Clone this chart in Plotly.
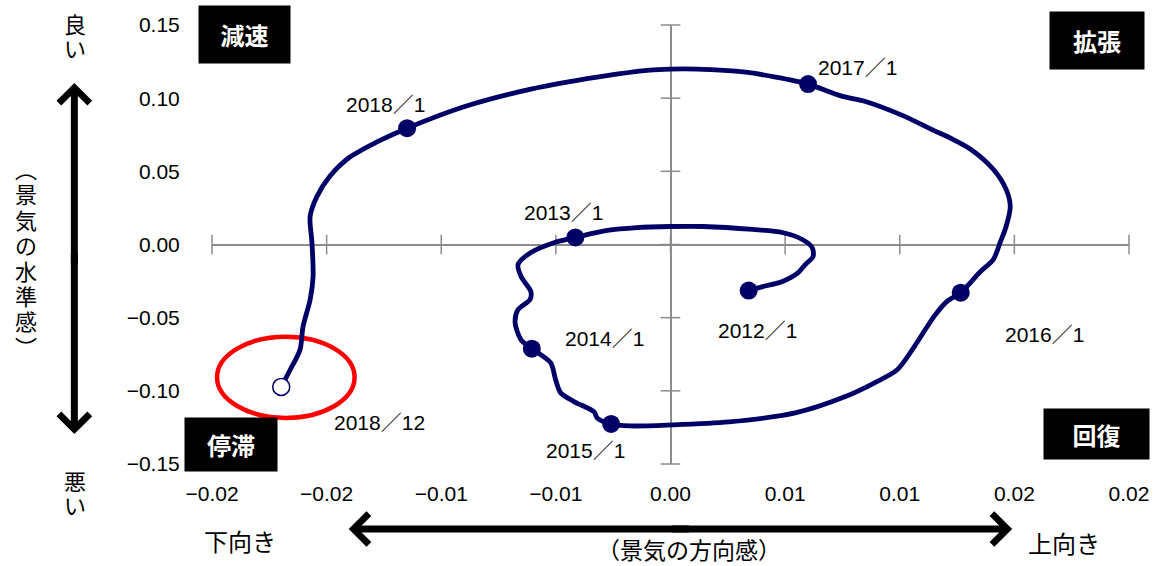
import plotly.graph_objects as go

# ---------------- data ----------------
x_tickvals = [-0.02, -0.015, -0.01, -0.005, 0.0, 0.005, 0.01, 0.015, 0.02]
x_ticktext = ["−0.02", "−0.02", "−0.01", "−0.01", "0.00", "0.01", "0.01", "0.02", "0.02"]
y_tickvals = [0.15, 0.10, 0.05, 0.0, -0.05, -0.10, -0.15]
y_ticktext = ["0.15", "0.10", "0.05", "0.00", "−0.05", "−0.10", "−0.15"]

# traced path of (direction, level) from 2012/1 to 2018/12
path_x = [0.00341, 0.00402, 0.00488, 0.00557, 0.00588, 0.00622, 0.00618, 0.00575, 0.00488,
          0.00359, 0.00143, 0.00000, -0.00147, -0.00276,
          -0.00415, -0.00505, -0.00609, -0.00665, -0.00652, -0.00609, -0.00613, -0.00665,
          -0.00678, -0.00652,
          -0.00605, -0.00523, -0.00501, -0.00479, -0.00419, -0.00333, -0.00320,
          -0.00259, -0.00177, 0.00004, 0.00255, 0.00544, 0.00760, 0.00890, 0.00989,
          0.01063, 0.01149, 0.01205,
          0.01266, 0.01352, 0.01408, 0.01438, 0.01464, 0.01482, 0.01464, 0.01408, 0.01309,
          0.01222, 0.01136, 0.01019, 0.00847, 0.00747,
          0.00600, 0.00458, 0.00328, 0.00112, 0.00000, -0.00091, -0.00320, -0.00609, -0.00894,
          -0.01149, -0.01283, -0.01400, -0.01486, -0.01542, -0.01572, -0.01564, -0.01559,
          -0.01572, -0.01603, -0.01616, -0.01659,
          -0.01698]
path_y = [-0.0315, -0.0288, -0.0253, -0.0192, -0.0137, -0.0082, -0.0021, 0.0034, 0.0082,
          0.0103, 0.0123, 0.0123, 0.0116, 0.0096,
          0.0048, 0.0014, -0.0055, -0.0137, -0.0219, -0.0322, -0.0377, -0.0445,
          -0.0534, -0.0651,
          -0.0712, -0.0808, -0.0925, -0.1014, -0.1075, -0.1144, -0.1185,
          -0.1226, -0.1240, -0.1233, -0.1212, -0.1151, -0.1041, -0.0945, -0.0856,
          -0.0699, -0.0493, -0.0390,
          -0.0329, -0.0185, -0.0103, 0.0014, 0.0123, 0.0260, 0.0377, 0.0514, 0.0651,
          0.0726, 0.0788, 0.0877, 0.0979, 0.1014,
          0.1096, 0.1144, 0.1178, 0.1199, 0.1199, 0.1192, 0.1144, 0.1062, 0.0945,
          0.0795, 0.0699, 0.0596, 0.0466, 0.0329, 0.0192, 0.0014, -0.0219,
          -0.0377, -0.0562, -0.0719, -0.0856,
          -0.0973]

jan_labels = ["2012/1", "2013/1", "2014/1", "2015/1", "2016/1", "2017/1", "2018/1"]
jan_x = [0.00341, -0.00415, -0.00605, -0.00259, 0.01266, 0.00600, -0.01149]
jan_y = [-0.0315, 0.0048, -0.0712, -0.1226, -0.0329, 0.1096, 0.0795]
last_label = "2018/12"
last_x = [-0.01698]
last_y = [-0.0973]

# label offsets in pixels (dx right, dy down)
jan_offsets = [(9, 38), (-12, -26), (73, -12), (-26, 25), (84, 40), (49, -18), (-22, -25)]
last_offset = (98, 34)

NAVY = "#000066"
GRAY = "#8c8c8c"
LAT = "Liberation Sans, Arial"
JP = "Noto Sans CJK JP"

# plot area in pixels
L, R, T, B = 212, 1138, 25, 464
W, H = 1161, 566


def px(x):
    return (x - L) / (R - L)


def py(y):
    return (B - y) / (B - T)


def date_text(s):
    # wide (full-width) slash as in the original labels
    return s.replace("/", "<span style='font-family:Noto Sans CJK JP'>／</span>")


fig = go.Figure()

# tick marks crossing the axis lines
fig.add_trace(go.Scatter(x=x_tickvals, y=[0] * len(x_tickvals), mode="markers",
                         marker=dict(symbol="line-ns-open", size=14, color=GRAY,
                                     line=dict(color=GRAY, width=1.5)),
                         cliponaxis=False, hoverinfo="skip"))
fig.add_trace(go.Scatter(x=[0] * len(y_tickvals), y=y_tickvals, mode="markers",
                         marker=dict(symbol="line-ew-open", size=14, color=GRAY,
                                     line=dict(color=GRAY, width=1.5)),
                         cliponaxis=False, hoverinfo="skip"))

# curve
fig.add_trace(go.Scatter(x=path_x, y=path_y, mode="lines",
                         line=dict(color=NAVY, width=4.8, shape="spline", smoothing=0.8),
                         hoverinfo="skip"))
fig.add_trace(go.Scatter(x=jan_x, y=jan_y, mode="markers",
                         marker=dict(color=NAVY, size=18), hoverinfo="skip", cliponaxis=False))
fig.add_trace(go.Scatter(x=last_x, y=last_y, mode="markers",
                         marker=dict(color="white", size=17, line=dict(color=NAVY, width=1.5)),
                         hoverinfo="skip", cliponaxis=False))

ann = []
for lab, x, y, (dx, dy) in zip(jan_labels, jan_x, jan_y, jan_offsets):
    ann.append(dict(x=x, y=y, xref="x", yref="y", text=date_text(lab), showarrow=False,
                    xshift=dx, yshift=-dy, font=dict(family=LAT, size=21, color="black")))
ann.append(dict(x=last_x[0], y=last_y[0], xref="x", yref="y", text=date_text(last_label),
                showarrow=False, xshift=last_offset[0], yshift=-last_offset[1],
                font=dict(family=LAT, size=21, color="black")))

# black phase boxes
boxes = [("減速", 244.5, 34.5, 91, 57), ("拡張", 1106, 40.5, 94, 57),
         ("停滞", 231, 444.5, 92, 53), ("回復", 1105.5, 434, 105, 50)]
for t, cx, cy, bw, bh in boxes:
    ann.append(dict(x=px(cx), y=py(cy), xref="paper", yref="paper", text="<b>" + t + "</b>",
                    showarrow=False, bgcolor="black", width=bw, height=bh, borderpad=0,
                    xanchor="center", yanchor="middle",
                    font=dict(family=JP, size=24, color="white")))


# vertical texts (one character per line, tight line pitch)
def vtext(chars, cx, cy, pitch, glyph):
    txt = "<br>".join("<span style='font-size:%dpx'>%s</span>" % (glyph, c) for c in chars)
    ann.append(dict(x=px(cx), y=py(cy), xref="paper", yref="paper", text=txt,
                    showarrow=False, xanchor="center", yanchor="middle",
                    font=dict(family=JP, size=pitch / 1.3, color="black")))


vtext("良い", 74, 35, 23.5, 22)
vtext("悪い", 74, 492, 23.5, 22)
vtext("︵景気の水準感︶", 24, 257, 25.4, 22)

# bottom texts
for t, cx, cy, fs in [("下向き", 240, 540, 24), ("上向き", 1072, 542, 24),
                      ("（景気の方向感）", 694, 549, 23)]:
    ann.append(dict(x=px(cx), y=py(cy), xref="paper", yref="paper", text=t, showarrow=False,
                    xanchor="center", yanchor="middle", font=dict(family=JP, size=fs, color="black")))

# double arrows
arrow_style = dict(showarrow=True, arrowhead=4, arrowwidth=7, arrowsize=0.85, arrowcolor="black",
                   text="", xref="paper", yref="paper")
ann.append(dict(x=px(73), y=py(83), ax=0, ay=182, **arrow_style))
ann.append(dict(x=px(73), y=py(434), ax=0, ay=-182, **arrow_style))
ann.append(dict(x=px(350), y=py(529), ax=342, ay=0, **arrow_style))
ann.append(dict(x=px(1020), y=py(529), ax=-342, ay=0, **arrow_style))

# red ellipse around the latest point
ell_x0, ell_x1 = -0.01978, -0.01378
ell_y0, ell_y1 = -0.1185, -0.0630

fig.update_layout(
    width=W, height=H,
    margin=dict(l=L, r=W - R, t=T, b=H - B),
    paper_bgcolor="white", plot_bgcolor="white",
    showlegend=False,
    annotations=ann,
    shapes=[dict(type="circle", xref="x", yref="y", x0=ell_x0, x1=ell_x1, y0=ell_y0, y1=ell_y1,
                 line=dict(color="#ff0000", width=4.5), layer="below")],
    xaxis=dict(range=[-0.02, 0.02], tickvals=x_tickvals, ticktext=x_ticktext,
               showgrid=False, zeroline=True, zerolinecolor=GRAY, zerolinewidth=1.5,
               showline=False, ticks="outside", ticklen=11, tickcolor="rgba(0,0,0,0)",
               tickfont=dict(family=LAT, size=21, color="black"), fixedrange=True),
    yaxis=dict(range=[-0.15, 0.15], tickvals=y_tickvals, ticktext=y_ticktext,
               showgrid=False, zeroline=True, zerolinecolor=GRAY, zerolinewidth=1.5,
               showline=False, ticks="outside", ticklen=27, tickcolor="rgba(0,0,0,0)",
               tickfont=dict(family=LAT, size=21, color="black"), fixedrange=True),
)

fig.write_html("out.html")
